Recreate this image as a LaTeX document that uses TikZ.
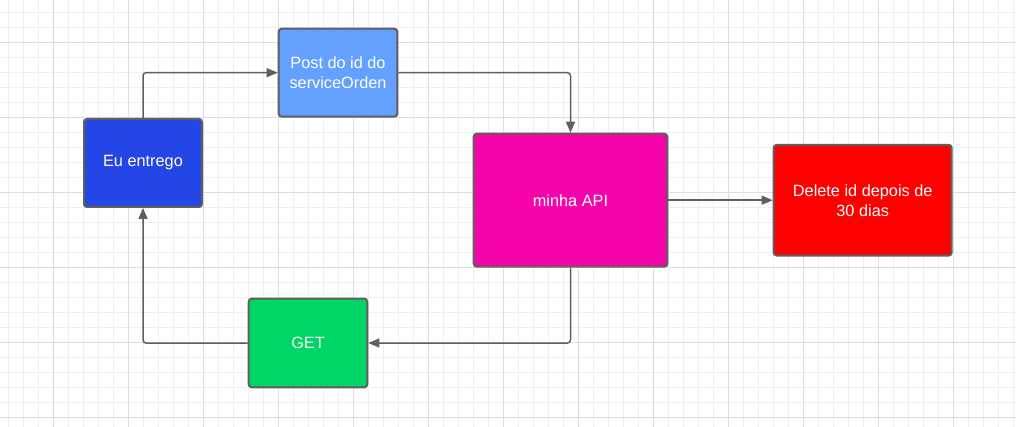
\documentclass[tikz,border=0pt]{standalone}
\usepackage{fontspec}
\setmainfont{Liberation Sans}
\usetikzlibrary{arrows.meta}
\definecolor{edgegray}{HTML}{5F5F5F}
\definecolor{gridminor}{HTML}{EFEFEF}
\definecolor{gridmajor}{HTML}{DEDEDE}
\definecolor{cblue}{HTML}{2446E6}
\definecolor{clight}{HTML}{63A0FF}
\definecolor{cpink}{HTML}{F505A9}
\definecolor{cred}{HTML}{FF0000}
\definecolor{cgreen}{HTML}{00D664}
\begin{document}
\begin{tikzpicture}[x=1pt,y=-1pt,
  box/.style={draw=edgegray, line width=2pt, rounded corners=3pt, text=white,
    font=\fontsize{16.3}{20}\selectfont, align=center, inner sep=0pt},
  conn/.style={draw=edgegray, line width=1.5pt, rounded corners=3pt,
    -{Triangle[length=11pt,width=9pt]}}]
\useasboundingbox (0,0) rectangle (1016,427);
\fill[white] (0,0) rectangle (1016,427);
% grid
\foreach \i in {0,...,67} {
  \draw[gridminor, line width=1pt] ({8.3+15*\i},0) -- ({8.3+15*\i},427);
}
\foreach \j in {0,...,28} {
  \draw[gridminor, line width=1pt] (0,{12.3+15*\j}) -- (1016,{12.3+15*\j});
}
\foreach \i in {0,...,13} {
  \draw[gridmajor, line width=1pt] ({53.3+75*\i},0) -- ({53.3+75*\i},427);
}
\foreach \j in {0,...,5} {
  \draw[gridmajor, line width=1pt] (0,{42.3+75*\j}) -- (1016,{42.3+75*\j});
}
% nodes
\node[box, fill=cblue, minimum width=118pt, minimum height=88pt] (eu) at (143,163) {Eu entrego};
\node[box, fill=clight, minimum width=118.6pt, minimum height=88pt] (post) at (338,72.7) {Post do id do\\serviceOrden};
\node[box, fill=cpink, minimum width=193.6pt, minimum height=133pt] (api) at (570.5,200.2) {minha API};
\node[box, fill=cred, minimum width=178pt, minimum height=110.7pt] (del) at (862.7,200.2) {Delete id depois de\\30 dias};
\node[box, fill=cgreen, minimum width=118.6pt, minimum height=88.7pt] (get) at (308,343) {GET};
% connectors
\draw[conn] (eu.north) |- (post.west);
\draw[conn] (post.east) -| (api.north);
\draw[conn] (api.east) -- (del.west);
\draw[conn] (api.south) |- (get.east);
\draw[conn] (get.west) -| (eu.south);
\end{tikzpicture}
\end{document}
